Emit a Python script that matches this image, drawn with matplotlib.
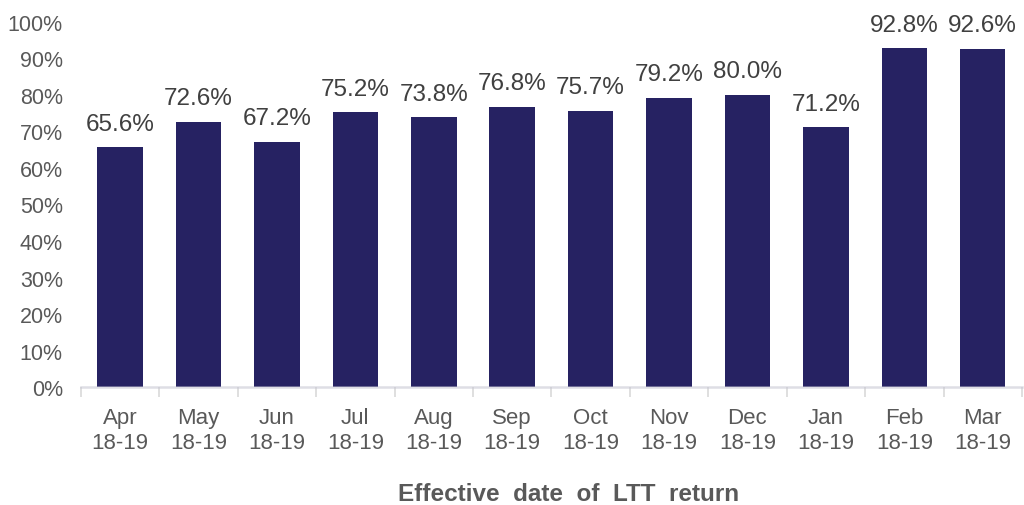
import matplotlib
matplotlib.use("Agg")
import numpy as np
from matplotlib import pyplot as plt
from matplotlib.ticker import FuncFormatter

months = ["Apr", "May", "Jun", "Jul", "Aug", "Sep", "Oct", "Nov", "Dec", "Jan", "Feb", "Mar"]
year = "18-19"
values = [65.6, 72.6, 67.2, 75.2, 73.8, 76.8, 75.7, 79.2, 80.0, 71.2, 92.8, 92.6]
yticks = list(range(0, 101, 10))
xlabel = "Effective  date  of  LTT  return"

plt.rcParams["font.family"] = ["Liberation Sans", "DejaVu Sans"]

fig = plt.figure(figsize=(10.24, 5.06), dpi=100)
ax = fig.add_axes([0.079, 0.233, 0.919, 0.722])

x = np.arange(len(months))
ax.bar(x, values, width=0.58, color="#262262", zorder=2)

for xi, v in zip(x, values):
    ax.text(xi, v + 3.4, f"{v:.1f}%", ha="center", va="bottom",
            fontsize=17.5, color="#404040")

ax.set_xlim(-0.5, len(months) - 0.5)
ax.set_ylim(0, 100)
ax.set_yticks(yticks)
ax.yaxis.set_major_formatter(FuncFormatter(lambda v, _: f"{v:.0f}%"))
ax.set_xticks(x)
ax.set_xticklabels([f"{m}\n{year}" for m in months])
ax.set_xticks(np.arange(-0.5, len(months)), minor=True)

ax.tick_params(axis="y", length=0, labelsize=15.5, colors="#595959", pad=13)
ax.tick_params(axis="x", which="major", length=0, labelsize=16,
               labelcolor="#595959", pad=14)
ax.tick_params(axis="x", which="minor", length=7, width=1.2, color="#d9d9d9")
for lbl in ax.get_xticklabels():
    lbl.set_linespacing(1.3)

for s in ["top", "right", "left"]:
    ax.spines[s].set_visible(False)
ax.spines["bottom"].set_color("#c8c8d4")
ax.spines["bottom"].set_alpha(0.6)
ax.spines["bottom"].set_linewidth(1.8)
ax.spines["bottom"].set_zorder(3)

fig.text(0.555, 0.022, xlabel, ha="center", va="center",
         fontsize=17.5, fontweight="bold", color="#595959")

fig.savefig("out.png", dpi=100)
